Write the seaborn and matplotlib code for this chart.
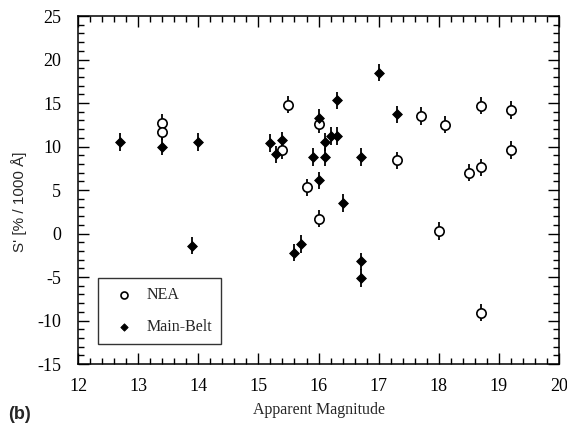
import matplotlib
matplotlib.use("Agg")
import matplotlib.pyplot as plt
from matplotlib.ticker import MultipleLocator
import seaborn as sns
import pandas as pd

# NEA data
nea_mag = [13.4, 13.4, 15.4, 15.5, 15.8, 16.0, 16.0, 17.3, 17.7, 18.0, 18.1, 18.5, 18.7, 18.7, 18.7, 19.2, 19.2]
nea_s = [12.7, 11.7, 9.6, 14.8, 5.3, 12.6, 1.7, 8.4, 13.5, 0.3, 12.5, 7.0, 14.7, 7.6, -9.1, 14.2, 9.6]
nea_err = [1.0] * len(nea_mag)

# Main-belt data
mb_mag = [12.7, 13.4, 13.9, 14.0, 15.2, 15.3, 15.4, 15.6, 15.7, 15.9, 16.0, 16.0, 16.1, 16.1,
          16.2, 16.3, 16.3, 16.4, 16.7, 16.7, 16.7, 17.0, 17.3]
mb_s = [10.5, 10.0, -1.4, 10.5, 10.4, 9.1, 10.7, -2.2, -1.2, 8.8, 13.3, 6.1, 10.5, 8.8,
        11.2, 11.2, 15.3, 3.5, 8.8, -3.2, -5.1, 18.5, 13.7]
mb_err = [1.0] * len(mb_mag)

x_ticks = [12, 13, 14, 15, 16, 17, 18, 19, 20]
y_ticks = [-15, -10, -5, 0, 5, 10, 15, 20, 25]

sns.set_theme(style="ticks")
plt.rcParams['font.family'] = ['Liberation Serif', 'DejaVu Serif']

fig = plt.figure(figsize=(5.67, 4.28), dpi=100)
ax = fig.add_axes([0.1376, 0.1495, 0.8484, 0.8131])

df_nea = pd.DataFrame({"mag": nea_mag, "s": nea_s, "err": nea_err})
df_mb = pd.DataFrame({"mag": mb_mag, "s": mb_s, "err": mb_err})

ax.errorbar(df_mb["mag"], df_mb["s"], yerr=df_mb["err"], fmt="none", ecolor="black",
            elinewidth=1.3, capsize=0, zorder=1)
ax.errorbar(df_nea["mag"], df_nea["s"], yerr=df_nea["err"], fmt="none", ecolor="black",
            elinewidth=1.3, capsize=0, zorder=1)

sns.scatterplot(data=df_nea, x="mag", y="s", ax=ax, marker="o", s=45,
                facecolor="white", edgecolor="black", linewidth=1.2, zorder=3, label="NEA")
sns.scatterplot(data=df_mb, x="mag", y="s", ax=ax, marker="D", s=25,
                color="black", edgecolor="black", linewidth=0.6, zorder=3, label="Main-Belt")

ax.set_xlim(12, 20)
ax.set_ylim(-15, 25)
ax.set_xticks(x_ticks)
ax.set_yticks(y_ticks)
ax.set_xticklabels([str(t) for t in x_ticks])
ax.set_yticklabels([str(t) for t in y_ticks])
ax.xaxis.set_minor_locator(MultipleLocator(0.2))
ax.yaxis.set_minor_locator(MultipleLocator(1))
ax.tick_params(which="both", direction="in", top=True, right=True, colors="black",
               labelsize=13, width=1)
ax.tick_params(which="major", length=8)
ax.tick_params(which="minor", length=4)
ax.tick_params(axis="x", which="major", pad=10)
ax.tick_params(axis="y", which="major", pad=12)
for sp in ax.spines.values():
    sp.set_color("black")
    sp.set_linewidth(1.1)

ax.set_xlabel("Apparent Magnitude", fontsize=11.5, labelpad=5)
ax.set_ylabel("S' [% / 1000 Å]", fontsize=11, family=["Liberation Sans", "DejaVu Sans"])
ax.yaxis.set_label_coords(-0.106, 0.466)

leg = ax.legend(loc="lower left", bbox_to_anchor=(0.0416, 0.0575), frameon=True, fancybox=False,
                edgecolor="black", fontsize=11.5, handletextpad=0.3, labelspacing=1.0,
                borderpad=0.55, handlelength=2.2, borderaxespad=0, markerscale=0.75)
leg.get_frame().set_linewidth(1.0)

fig.text(0.015, 0.022, "(b)", fontsize=13, fontweight="bold", family=["Liberation Sans", "DejaVu Sans"])

fig.savefig("out.png", dpi=100, facecolor="white")
